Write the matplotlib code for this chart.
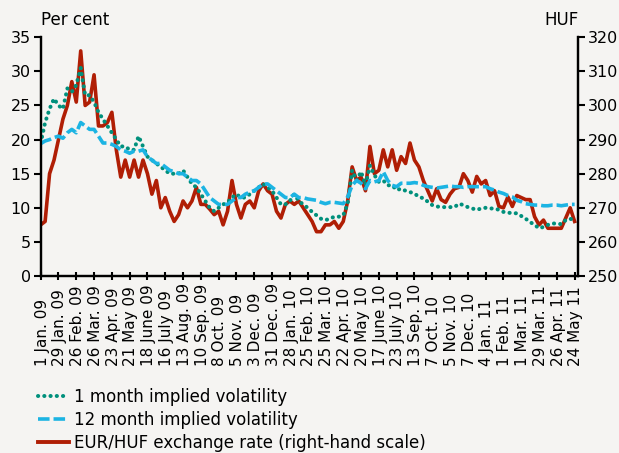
import matplotlib
matplotlib.use("Agg")
import matplotlib.pyplot as plt
from matplotlib.lines import Line2D

# ---- data (weekly readings) ----
tick_labels = ["1 Jan. 09", "29 Jan. 09", "26 Feb. 09", "26 Mar. 09", "23 Apr. 09",
               "21 May 09", "18 June 09", "16 July 09", "13 Aug. 09", "10 Sep. 09",
               "8 Oct. 09", "5 Nov. 09", "3 Dec. 09", "31 Dec. 09", "28 Jan. 10",
               "25 Feb. 10", "25 Mar. 10", "22 Apr. 10", "20 May 10", "17 June 10",
               "23 July 10", "13 Sep. 10", "7 Oct. 10", "5 Nov. 10", "7 Dec. 10",
               "4 Jan. 11", "1 Feb. 11", "1 Mar. 11", "29 Mar. 11", "26 Apr. 11",
               "24 May 11"]

vol_1m = [19.5, 22.5, 24.5, 26, 25, 24.5, 27.5, 27, 28, 30.5,
          26.5, 26.5, 25.5, 24, 23, 22, 21, 20, 19, 19,
          18.5, 18.5, 20.5, 19, 17.5, 17, 16.5, 16, 15.5, 15,
          15, 15, 15.5, 14.5, 13.5, 13, 12, 11, 10, 9.5,
          10, 10.5, 10.8, 11.5, 12, 11.5, 11.5, 12, 12.5, 13,
          13.5, 13, 12.5, 11.5, 10.5, 10.5, 11, 12, 11, 10.5,
          10, 9.4, 8.9, 8.4, 8.2, 8.4, 8.7, 8.7, 8.9, 10.6,
          15.5, 14, 15.3, 13.3, 16.2, 14.8, 13.8, 14, 13.3, 13.3,
          12.6, 12.8, 12.5, 12.3, 12.1, 11.6, 11.4, 10.9, 10.4, 10.2,
          10.1, 10.1, 10.1, 10.1, 10.6, 10.4, 10.1, 9.9, 9.7, 9.9,
          10.0, 9.9, 9.9, 9.7, 9.4, 9.3, 9.2, 9.2, 8.8, 8.4,
          7.9, 7.5, 7.0, 7.2, 7.5, 7.7, 7.7, 7.6, 8.2, 8.4,
          8.1]

vol_12m = [19.4, 19.8, 20, 20.3, 20.5, 20.2, 21, 21.5, 21, 22.5,
           22, 21.5, 21.5, 20.5, 19.5, 19.5, 19.3, 19, 18.5, 18.3,
           18, 18.3, 18.3, 18.5, 17.5, 17, 16.5, 16.5, 16, 15.5,
           15.3, 15, 15, 14.5, 14, 14, 13.5, 12.5, 11.5, 11,
           10.5, 10.5, 10.5, 11, 11.5, 11.5, 12, 12.3, 12.5, 13,
           13.5, 13.5, 13, 12.5, 12, 11.5, 11.5, 12, 11.5, 11.5,
           11.3, 11.2, 11.1, 10.8, 10.6, 10.8, 10.8, 10.7, 10.6, 11.6,
           13.3, 14.0, 13.6, 12.8, 14.0, 13.8, 14.0, 15.3, 14.0, 13.3,
           13.1, 13.6, 13.6, 13.6, 13.7, 13.6, 13.3, 13.1, 13.0, 12.9,
           13.0, 13.1, 13.2, 13.1, 13.1, 13.0, 13.1, 13.1, 13.1, 13.1,
           13.1, 12.8, 12.6, 12.3, 12.1, 11.8, 11.6, 11.1, 10.9, 10.6,
           10.5, 10.4, 10.4, 10.3, 10.3, 10.4, 10.4, 10.3, 10.4, 10.5,
           10.5]

eurhuf = [265, 266, 280, 284, 290, 296, 300, 307, 301, 316,
          300, 301, 309, 294, 294, 295, 298, 287, 279, 284,
          279, 284, 279, 284, 280, 274, 278, 270, 273, 269,
          266, 268, 272, 270, 272, 276, 271, 271, 269.6, 268,
          269, 265, 269, 278, 271, 267, 271, 272, 270, 275,
          277, 275, 274, 269, 267, 271, 272, 271, 272, 270,
          268, 266, 263, 263, 265, 265, 266, 264, 266, 272,
          282, 278, 279, 275, 288, 280, 281, 287, 282, 287,
          281, 285, 283, 289, 284, 282, 278, 275, 272, 275.6,
          272.4, 271.6, 274, 275.6, 276, 280, 278, 274.6, 279.2, 277,
          278, 273.6, 275, 270.4, 270, 273.2, 270.4, 273.6, 273, 272.4,
          272.4, 267.4, 265, 266.4, 264, 264, 264, 264, 267, 270,
          266]

legend_labels = ["1 month implied volatility", "12 month implied volatility",
                 "EUR/HUF exchange rate (right-hand scale)"]

# ---- styling ----
BG = "#F5F4F2"
C_1M = "#00907C"
C_12M = "#1CB4E3"
C_FX = "#B01E05"

plt.rcParams["font.family"] = ["DejaVu Sans"]
plt.rcParams["font.size"] = 10

fig = plt.figure(figsize=(6.19, 4.53), dpi=100, facecolor=BG)
ax1 = fig.add_axes([0.0657, 0.3907, 0.868, 0.527])
ax2 = ax1.twinx()
ax1.set_zorder(ax2.get_zorder() + 1)
ax1.patch.set_visible(False)
ax2.patch.set_facecolor(BG)

x = list(range(len(eurhuf)))

DOT = (0, (0.05, 1.5))
DASH = (0, (3.2, 1.1))
ax2.plot(x, eurhuf, color=C_FX, lw=2.6, solid_joinstyle="round")
ax1.plot(x, vol_1m, color=C_1M, lw=2.9, linestyle=DOT, dash_capstyle="round")
ax1.plot(x, vol_12m, color=C_12M, lw=2.6, linestyle=DASH, dash_capstyle="butt")

ax1.set_xlim(0, 120.75)
ax1.set_ylim(0, 35)
ax2.set_ylim(250, 320)
ax1.set_yticks(range(0, 36, 5))
ax2.set_yticks(range(250, 321, 10))
xt = list(range(0, 121, 4))
ax1.set_xticks(xt)
ax1.set_xticklabels([])
for pos, lab in zip(xt, tick_labels):
    ax1.text(pos + 0.3, -0.375, lab, rotation=90, ha="center", va="bottom",
             fontsize=11, transform=ax1.get_xaxis_transform())
ax1.tick_params(axis="y", labelsize=11.5, width=1.5, length=5, direction="out", pad=2)
ax2.tick_params(axis="y", labelsize=11.5, width=1.5, length=5, direction="out", pad=2)
ax1.tick_params(axis="x", width=1.5, length=6, direction="inout")

for ax in (ax1, ax2):
    ax.spines["top"].set_visible(False)
    for s in ("left", "right", "bottom"):
        ax.spines[s].set_linewidth(1.6)
        ax.spines[s].set_color("black")

fig.text(0.067, 0.935, "Per cent", fontsize=12, ha="left", va="bottom")
fig.text(0.934, 0.935, "HUF", fontsize=12, ha="right", va="bottom")

h1 = Line2D([], [], color=C_1M, lw=2.9, linestyle=DOT, dash_capstyle="round")
h2 = Line2D([], [], color=C_12M, lw=2.6, linestyle=DASH)
h3 = Line2D([], [], color=C_FX, lw=2.8)
fig.legend([h1, h2, h3], legend_labels, loc="upper left",
           bbox_to_anchor=(0.061, 0.143), frameon=False, fontsize=12,
           handlelength=1.9, handletextpad=0.3, labelspacing=0.3,
           borderaxespad=0, borderpad=0)

fig.savefig("out.png", dpi=100, facecolor=BG)
